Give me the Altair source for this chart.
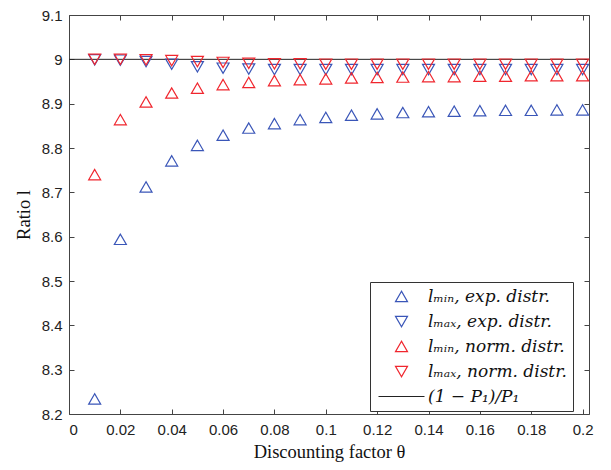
import altair as alt
import pandas as pd

theta = [0.01, 0.02, 0.03, 0.04, 0.05, 0.06, 0.07, 0.08, 0.09, 0.10,
         0.11, 0.12, 0.13, 0.14, 0.15, 0.16, 0.17, 0.18, 0.19, 0.20]

lmin_exp = [8.234, 8.594, 8.712, 8.771, 8.806, 8.829, 8.845, 8.855, 8.864, 8.869,
            8.874, 8.877, 8.880, 8.882, 8.883, 8.884, 8.885, 8.885, 8.886, 8.886]
lmax_exp = [8.999, 8.998, 8.995, 8.989, 8.983, 8.980, 8.978, 8.977, 8.977, 8.977,
            8.977, 8.977, 8.977, 8.977, 8.977, 8.977, 8.977, 8.977, 8.977, 8.977]
lmin_norm = [8.740, 8.864, 8.904, 8.924, 8.935, 8.943, 8.948, 8.952, 8.954, 8.956,
             8.958, 8.959, 8.960, 8.961, 8.961, 8.962, 8.962, 8.963, 8.963, 8.963]
lmax_norm = [9.000, 9.000, 8.999, 8.997, 8.995, 8.993, 8.991, 8.990, 8.990, 8.989,
             8.989, 8.989, 8.989, 8.989, 8.989, 8.989, 8.989, 8.989, 8.989, 8.989]

ref_x = [0.0, 0.2025]
ref_y = [9.0, 9.0]

series_names = ["lₘᵢₙ, exp. distr.", "lₘₐₓ, exp. distr.",
                "lₘᵢₙ, norm. distr.", "lₘₐₓ, norm. distr.", "(1 − P₁)/P₁"]
series_colors = ["#3a56b8", "#3a56b8", "#f0262e", "#f0262e", "#222222"]
series_shapes = ["triangle-up", "triangle-down", "triangle-up", "triangle-down",
                 "M-3.8333,0L3.8333,0"]

x_ticks = [0.0, 0.02, 0.04, 0.06, 0.08, 0.10, 0.12, 0.14, 0.16, 0.18, 0.20]
y_ticks = [8.2, 8.3, 8.4, 8.5, 8.6, 8.7, 8.8, 8.9, 9.0, 9.1]

rows = []
for name, vals in zip(series_names[:4], [lmin_exp, lmax_exp, lmin_norm, lmax_norm]):
    for t, v in zip(theta, vals):
        rows.append({"theta": t, "l": v, "series": name})
pts = pd.DataFrame(rows)
ref = pd.DataFrame({"theta": ref_x, "l": ref_y})

xscale = alt.Scale(domain=[0, 0.2025], nice=False, zero=False)
yscale = alt.Scale(domain=[8.2, 9.1], nice=False, zero=False)

sans = "Liberation Sans, Arial, Helvetica, sans-serif"
serif = "Liberation Serif, DejaVu Serif, serif"
legend_font = "DejaVu Serif, serif"

legend_kw = dict(title=None, orient="none", legendX=301, legendY=267,
                 padding=6, symbolOffset=17, labelOffset=18,
                 rowPadding=7, strokeColor="#333333", fillColor="white",
                 labelFont=legend_font, labelFontSize=17, labelFontStyle="italic",
                 labelColor="#111111", labelLimit=300,
                 symbolSize=144, symbolStrokeWidth=1.2,
                 symbolFillColor="transparent", cornerRadius=0)

title_kw = dict(titleFont=serif, titleFontSize=18.5, titleFontWeight="normal", titleColor="#111111")
label_kw = dict(labelFont=sans, labelFontSize=15, labelColor="#222222",
                tickColor="#444444", tickWidth=1)

points = alt.Chart(pts).mark_point(filled=False, size=144, strokeWidth=1.2, opacity=1).encode(
    x=alt.X("theta:Q", scale=xscale,
            axis=alt.Axis(values=x_ticks, format=".2~f", title="Discounting factor θ",
                          orient="bottom", offset=-5, tickSize=5, domain=False, grid=False,
                          labelPadding=8, titlePadding=5, **title_kw, **label_kw)),
    y=alt.Y("l:Q", scale=yscale,
            axis=alt.Axis(values=y_ticks, format=".1~f", title="Ratio l",
                          orient="left", offset=-5, tickSize=5, domain=False, grid=False,
                          labelPadding=7, titlePadding=8, **title_kw, **label_kw)),
    color=alt.Color("series:N",
                    scale=alt.Scale(domain=series_names, range=series_colors),
                    legend=alt.Legend(**legend_kw)),
    shape=alt.Shape("series:N",
                    scale=alt.Scale(domain=series_names, range=series_shapes),
                    legend=alt.Legend(**legend_kw)),
)

line = alt.Chart(ref).mark_line(color="#222222", strokeWidth=1).encode(
    x=alt.X("theta:Q", scale=xscale,
            axis=alt.Axis(values=x_ticks, orient="top", offset=-5, tickSize=5, domain=False,
                          grid=False, labels=False, title=None, tickColor="#444444")),
    y=alt.Y("l:Q", scale=yscale,
            axis=alt.Axis(values=y_ticks, orient="right", offset=-5, tickSize=5, domain=False,
                          grid=False, labels=False, title=None, tickColor="#444444")),
)

chart = alt.layer(line, points).properties(
    width=520, height=399,
    padding={"left": 61, "top": 7, "right": 14, "bottom": 48},
    autosize=alt.AutoSizeParams(type="none"),
    background="white",
).configure_view(
    stroke="#444444", strokeWidth=1
)

chart.save("out.html", embed_options={"renderer": "svg", "actions": False})
